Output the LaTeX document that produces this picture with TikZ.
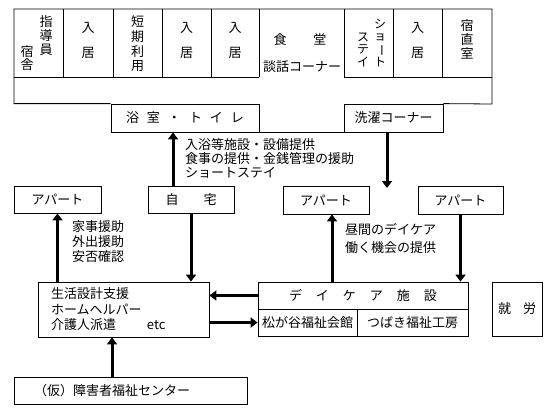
\documentclass[tikz,border=0pt]{standalone}
\usepackage{fontspec}
\setmainfont{Noto Sans CJK JP}
\usetikzlibrary{arrows.meta}

\begin{document}
\begin{tikzpicture}[
    x=1pt, y=-1pt,
    font=\fontsize{13}{14}\selectfont,
    wall/.style={line width=0.8pt},
    box/.style={draw,line width=0.8pt,inner sep=0pt,align=center},
    txt/.style={inner sep=0pt,align=center},
    pair/.style={txt,font=\fontsize{13}{25}\selectfont},
    note/.style={inner sep=0pt,align=left,anchor=north west},
    arr/.style={line width=3pt,-{Triangle[length=7pt,width=10pt]}}
]
\useasboundingbox (0,0) rectangle (553,412);

% building plan
\node[box,minimum width=148pt,minimum height=28pt] (bath) at (185,118)
    {浴\hspace{8pt}室\hspace{8pt}・\hspace{8pt}ト\hspace{8pt}イ\hspace{8pt}レ};
\node[box,minimum width=99pt,minimum height=28pt] (wash) at (393.5,118) {洗濯コーナー};
\draw[wall] (bath.north west) -| (14,9) -| (492,104) -- (wash.north east);
\draw[wall] (bath.south east) -- (wash.south west);
\draw[wall] (14,77) -- (259,77) (344,77) -- (492,77);
\foreach \x in {63,113,162,211,259,344,393,442}
    \draw[wall] (\x,9) -- (\x,77);

\node[txt] (staffA) at (46,36) {指\\導\\員};
\node[txt,font=\fontsize{13}{13}\selectfont] (staffB) at (27,58.5) {宿\\舎};
\node[txt,font=\fontsize{13}{14.7}\selectfont] (short) at (137.5,44) {短\\期\\利\\用};
\node[pair] (roomA) at (88,40) {入\\居};
\node[pair] (roomB) at (186.5,40) {入\\居};
\node[pair] (roomC) at (235,40) {入\\居};
\node[txt] (dining) at (300,40) {食\hspace{27pt}堂};
\node[txt] (lounge) at (302,67) {談話コーナー};
\node[txt,font=\fontsize{12}{12.5}\selectfont] (stayA) at (380,43)
    {シ\\ョ\\\rotatebox[origin=c]{-90}{ー}\\ト};
\node[txt,font=\fontsize{12}{12.5}\selectfont] (stayB) at (363,49.5) {ス\\テ\\イ};
\node[pair] (roomD) at (417.5,40) {入\\居};
\node[txt] (night) at (467,39) {宿\\直\\室};

% homes
\node[box,minimum width=87pt,minimum height=27pt] (aptL) at (57.5,199.5) {アパート};
\node[box,minimum width=86pt,minimum height=27pt] (home) at (191,199.5) {自\hspace{25pt}宅};
\node[box,minimum width=86pt,minimum height=28pt] (aptM) at (326,200) {アパート};
\node[box,minimum width=85pt,minimum height=28pt] (aptR) at (460.5,200) {アパート};

% services
\node[box,minimum height=55pt,text width=145pt,align=left,inner xsep=13pt,
    font=\fontsize{13}{15.5}\selectfont] (sup) at (123.5,309.5)
    {生活設計支援\\ホームヘルパー\\介護人派遣\hspace{31pt}etc};
\node[box,minimum width=210pt,minimum height=27pt] (dc) at (363,295.5)
    {デ\hspace{14pt}イ\hspace{14pt}ケ\hspace{14pt}ア\hspace{14pt}施\hspace{14pt}設};
\node[box,minimum width=99pt,minimum height=27pt] (matsu) at (307.5,322.5) {松が谷福祉会館};
\node[box,minimum width=111pt,minimum height=27pt] (tsubaki) at (412.5,322.5) {つばき福祉工房};
\node[box,minimum width=50pt,minimum height=54pt] (work) at (517,309) {就\hspace{12pt}労};
\node[box,minimum height=27pt,text width=193pt,align=left,inner xsep=20pt] (ctr) at (130.5,390.5)
    {（仮）障害者福祉センター};

\node[note] (noteA) at (185,138) {入浴等施設・設備提供\\食事の提供・金銭管理の援助\\ショートステイ};
\node[note,font=\fontsize{13}{15}\selectfont] (noteB) at (72,220) {家事援助\\外出援助\\安否確認};
\node[note,font=\fontsize{13}{18}\selectfont] (noteC) at (345,223) {昼間のデイケア\\働く機会の提供};

\coordinate (wend) at (387,188);

\draw[arr] ([xshift=-18pt]home.north) -- ([xshift=-18pt]home.north |- bath.south);
\draw[arr] (wash.south -| wend) -- (wend);
\draw[arr] (aptL.south |- sup.north) -- (aptL.south);
\draw[arr] (home.south) -- (home.south |- sup.north);
\draw[arr] ([xshift=6pt]aptM.south |- dc.north) -- ([xshift=6pt]aptM.south);
\draw[arr] (aptR.south) -- (aptR.south |- dc.north);
\draw[arr] (dc.west) -- (dc.west -| sup.east);
\draw[arr] (sup.east |- matsu.west) -- (matsu.west);
\draw[arr] ([xshift=-18.5pt]ctr.north) -- ([xshift=-18.5pt]ctr.north |- sup.south);

\end{tikzpicture}
\end{document}
